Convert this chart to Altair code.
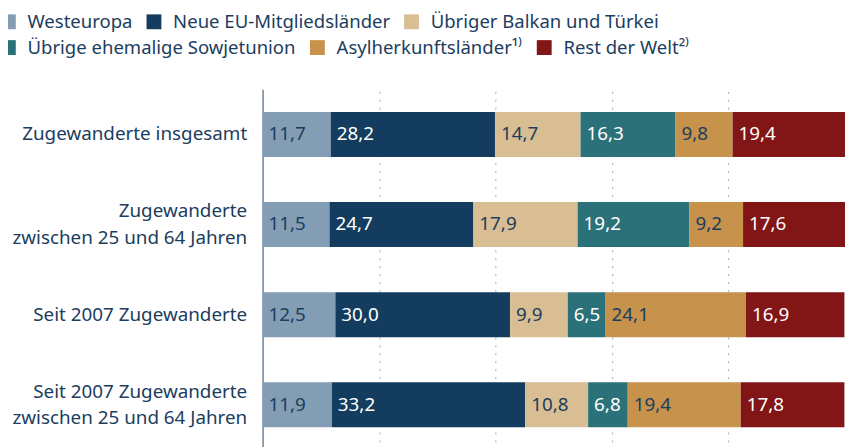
import altair as alt
import pandas as pd

categories = [
    "Zugewanderte insgesamt",
    "Zugewanderte|zwischen 25 und 64 Jahren",
    "Seit 2007 Zugewanderte",
    "Seit 2007 Zugewanderte|zwischen 25 und 64 Jahren",
]
regions = [
    "Westeuropa",
    "Neue EU-Mitgliedsländer",
    "Übriger Balkan und Türkei",
    "Übrige ehemalige Sowjetunion",
    "Asylherkunftsländer¹⁾",
    "Rest der Welt²⁾",
]
colors = ["#839db4", "#133c5e", "#d9be93", "#2b7179", "#c6924c", "#821516"]
dark_regions = ["Neue EU-Mitgliedsländer", "Übrige ehemalige Sowjetunion", "Rest der Welt²⁾"]

westeuropa = [11.7, 11.5, 12.5, 11.9]
neue_eu = [28.2, 24.7, 30.0, 33.2]
balkan_tuerkei = [14.7, 17.9, 9.9, 10.8]
sowjetunion = [16.3, 19.2, 6.5, 6.8]
asyl = [9.8, 9.2, 24.1, 19.4]
rest_welt = [19.4, 17.6, 16.9, 17.8]

series = [westeuropa, neue_eu, balkan_tuerkei, sowjetunion, asyl, rest_welt]

rows = []
for ri, (reg, vals) in enumerate(zip(regions, series)):
    for ci, cat in enumerate(categories):
        rows.append({"category": cat, "region": reg, "order": ri, "value": vals[ci]})
df = pd.DataFrame(rows)

TEXT = "#1c3d5e"
FONT = "Noto Sans"
FS = 19

base = alt.Chart(df).transform_stack(
    stack="value", groupby=["category"], sort=[alt.SortField("order")], as_=["x0", "x1"]
).transform_calculate(
    label="replace(format(datum.value, '.1f'), '.', ',')",
    tc=f"indexof({dark_regions}, datum.region) >= 0 ? 'white' : '{TEXT}'",
)

y_enc = alt.Y(
    "category:N",
    sort=categories,
    title=None,
    scale=alt.Scale(paddingInner=0.5, paddingOuter=0.25),
    axis=alt.Axis(
        labelExpr="split(datum.label, '|')",
        labelFontSize=FS,
        labelFont=FONT,
        labelColor=TEXT,
        labelLineHeight=26.5,
        labelPadding=16,
        labelOffset={"condition": {"test": "indexof(datum.value, '|') >= 0", "value": -13.25}, "value": 0},
        ticks=False,
        domainColor="#6e8296",
        domainWidth=1.5,
        labelLimit=400,
    ),
)

x_scale = alt.Scale(domain=[0, 100], clamp=True, nice=False)
x_axis = alt.Axis(
    values=[20, 40, 60, 80, 100],
    labels=False,
    ticks=False,
    domain=False,
    grid=True,
    gridDash=[2, 6],
    gridColor="#9aadc0",
    gridWidth=1,
)


def legend_for(vals, ly):
    return alt.Legend(
        title=None,
        orient="none",
        legendX=-266,
        legendY=ly,
        direction="horizontal",
        values=vals,
        symbolType="square",
        symbolSize=225,
        symbolStrokeWidth=0,
        labelFontSize=18.7,
        labelFont=FONT,
        labelColor=TEXT,
        labelOffset=10,
        columnPadding=12,
        labelLimit=400,
    )


bars_a = base.transform_filter(alt.datum.order < 3).mark_bar(size=45.5).encode(
    x=alt.X("x0:Q", scale=x_scale, title=None, axis=x_axis),
    x2="x1:Q",
    y=y_enc,
    color=alt.Color(
        "region:N",
        sort=regions,
        scale=alt.Scale(domain=regions, range=colors),
        legend=legend_for(regions[:3], -78),
    ),
)

bars_b = base.transform_filter(alt.datum.order >= 3).mark_bar(size=45.5).encode(
    x=alt.X("x0:Q", scale=x_scale, title=None, axis=x_axis),
    x2="x1:Q",
    y=y_enc,
    color=alt.Color(
        "region:N",
        sort=regions,
        scale=alt.Scale(domain=regions, range=colors),
        legend=legend_for(regions[3:], -52),
    ),
)

texts = base.mark_text(align="left", baseline="middle", dx=6, fontSize=FS, font=FONT).encode(
    x=alt.X("x0:Q", scale=x_scale),
    y=alt.Y("category:N", sort=categories),
    text="label:N",
    color=alt.Color("tc:N", scale=None),
)

chart = (
    alt.layer(bars_a, bars_b, texts)
    .resolve_scale(color="independent")
    .properties(
        width=588,
        height=364,
        autosize=alt.AutoSizeParams(type="none"),
        padding={"left": 257, "top": 80, "right": 0, "bottom": 0},
    )
    .configure_view(stroke=None)
)

chart.save("out.html", embed_options={"renderer": "svg", "actions": False})
